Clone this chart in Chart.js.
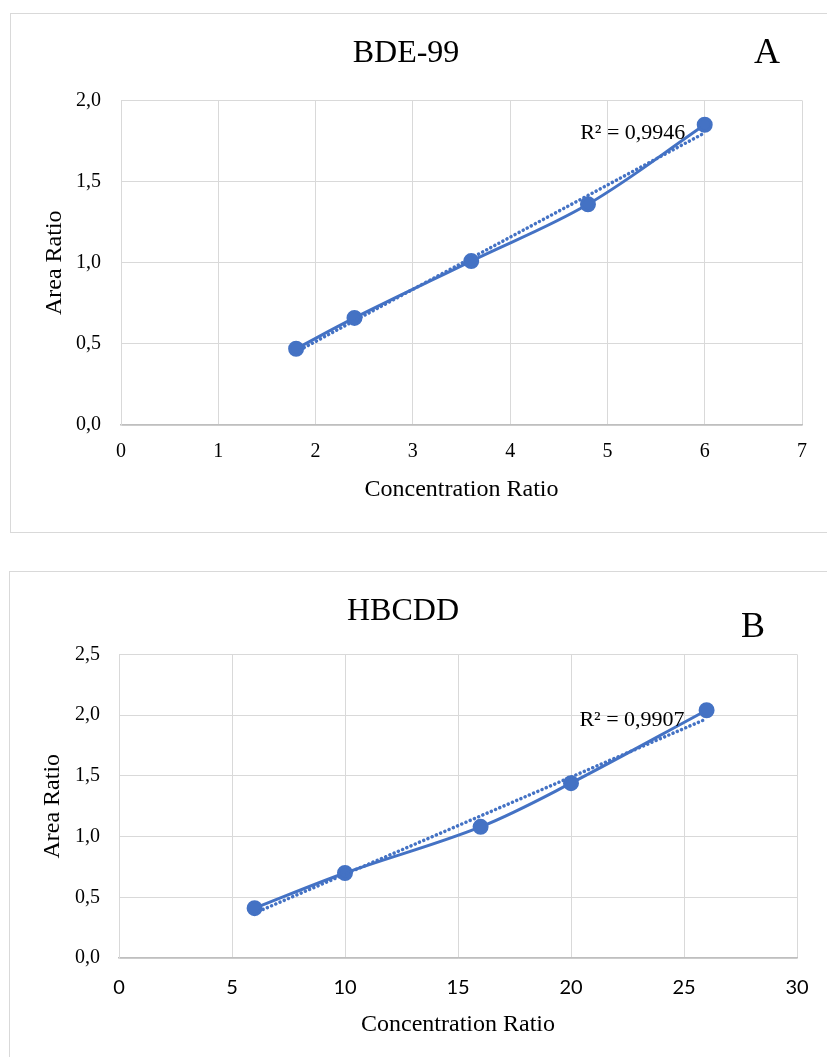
<!DOCTYPE html>
<html>
<head>
<meta charset="utf-8">
<script src="https://cdn.jsdelivr.net/npm/chart.js@4.4.1/dist/chart.umd.min.js"></script>
<style>
  html, body { margin: 0; padding: 0; background: #fff; overflow: hidden; width: 827px; height: 1057px; }
  .panel { position: absolute; border: 1px solid #d9d9d9; box-sizing: border-box; }
  canvas { position: absolute; }
</style>
</head>
<body>
<div class="panel" style="left:10px; top:13px; width:830px; height:520px;"></div>
<div class="panel" style="left:9px; top:571px; width:830px; height:500px;"></div>
<canvas id="chartA" width="817" height="519" style="left:10px; top:13px;"></canvas>
<canvas id="chartB" width="818" height="486" style="left:9px; top:571px;"></canvas>
<script>
// panel A - BDE-99
const concA = [1.8, 2.4, 3.6, 4.8, 6.0];
const areaA = [0.47, 0.66, 1.01, 1.36, 1.85];
const trendAx = [1.8, 6.0];
const trendAy = [0.45, 1.80];
const r2A = 'R² = 0,9946';

// panel B - HBCDD
const concB = [6, 10, 16, 20, 26];
const areaB = [0.41, 0.70, 1.08, 1.44, 2.04];
const trendBx = [6, 26];
const trendBy = [0.37, 1.97];
const r2B = 'R² = 0,9907';

const blue = '#4472C4';
const grid = '#d9d9d9';
const serif = '"Liberation Serif", "Times New Roman", serif';

function pts(xs, ys) {
    return xs.map((v, i) => ({x: v, y: ys[i]}));
}

// letter + R² label
const annotate = {
    id: 'annotate',
    afterDraw(chart, args, o) {
        const {ctx} = chart;
        const x = chart.scales.x, y = chart.scales.y;
        ctx.save();
        ctx.fillStyle = '#000';
        ctx.textAlign = 'center';
        ctx.textBaseline = 'middle';
        ctx.font = '36px ' + serif;
        ctx.fillText(o.letter, o.lx, o.ly);
        ctx.font = '22px ' + serif;
        ctx.fillText(o.r2, x.getPixelForValue(o.r2x), y.getPixelForValue(o.r2y));
        ctx.restore();
    }
};

function makeChart(id, cfg) {
    return new Chart(document.getElementById(id), {
        type: 'scatter',
        data: {
            datasets: [
                {
                    data: pts(cfg.tx, cfg.ty),
                    showLine: true,
                    borderColor: blue,
                    borderWidth: 3.5,
                    borderDash: [0.1, 4.5],
                    borderCapStyle: 'round',
                    pointRadius: 0
                },
                {
                    data: pts(cfg.xs, cfg.ys),
                    showLine: true,
                    tension: 0.35,
                    borderColor: blue,
                    borderWidth: 3,
                    backgroundColor: blue,
                    pointRadius: 6.5,
                    pointBackgroundColor: blue,
                    pointBorderColor: blue
                }
            ]
        },
        options: {
            responsive: false,
            animation: false,
            devicePixelRatio: 1,
            layout: {padding: {left: 0, right: cfg.padRight, top: 0, bottom: 0}},
            plugins: {
                legend: {display: false},
                tooltip: {enabled: false},
                title: {
                    display: true,
                    text: cfg.title,
                    color: '#000',
                    font: {family: serif, size: 32, weight: 'normal', lineHeight: 1.2},
                    padding: {top: cfg.titleTop, bottom: cfg.titleBottom}
                },
                annotate: {letter: cfg.letter, lx: cfg.lx, ly: cfg.ly, r2: cfg.r2, r2x: cfg.r2x, r2y: cfg.r2y}
            },
            scales: {
                x: {
                    type: 'linear',
                    min: 0, max: cfg.xMax,
                    ticks: {
                        stepSize: cfg.xStep,
                        color: '#000',
                        padding: cfg.xTickPad,
                        font: {family: cfg.xTickFont, size: 20}
                    },
                    grid: {color: grid, drawTicks: false},
                    border: {color: '#bfbfbf', width: 1.5},
                    title: {
                        display: true,
                        text: 'Concentration Ratio',
                        color: '#000',
                        font: {family: serif, size: 24, lineHeight: 1.2},
                        padding: {top: 0, bottom: cfg.xTitlePad}
                    },
                    afterFit(s) {
                        s.height = cfg.xHeight;
                        s.paddingLeft = 0;
                        s.paddingRight = 0;
                    }
                },
                y: {
                    min: 0, max: cfg.yMax,
                    ticks: {
                        stepSize: 0.5,
                        color: '#000',
                        padding: cfg.yTickPad,
                        font: {family: serif, size: 20},
                        callback: v => v.toFixed(1).replace('.', ',')
                    },
                    grid: {color: grid, drawTicks: false},
                    border: {color: grid},
                    title: {
                        display: true,
                        text: 'Area Ratio',
                        color: '#000',
                        font: {family: serif, size: 24, lineHeight: 1.2},
                        padding: {top: cfg.yTitlePad, bottom: 0}
                    },
                    afterFit(s) {
                        s.width = cfg.yWidth;
                        s.paddingTop = 0;
                        s.paddingBottom = 0;
                    }
                }
            }
        },
        plugins: [annotate]
    });
}

makeChart('chartA', {
    xs: concA, ys: areaA, tx: trendAx, ty: trendAy,
    title: 'BDE-99', letter: 'A', lx: 757, ly: 41,
    r2: r2A, r2x: 5.26, r2y: 1.80,
    xMax: 7, xStep: 1, yMax: 2.0,
    xTickFont: serif,
    padRight: 25, titleTop: 21, titleBottom: 28,
    xHeight: 107, xTickPad: 15, xTitlePad: 28,
    yWidth: 111, yTickPad: 20, yTitlePad: 30
});

makeChart('chartB', {
    xs: concB, ys: areaB, tx: trendBx, ty: trendBy,
    title: 'HBCDD', letter: 'B', lx: 744, ly: 57,
    r2: r2B, r2x: 22.7, r2y: 1.96,
    xMax: 30, xStep: 5, yMax: 2.5,
    xTickFont: 'Lato, "Open Sans", sans-serif',
    padRight: 30, titleTop: 21, titleBottom: 24,
    xHeight: 99, xTickPad: 18, xTitlePad: 18,
    yWidth: 110, yTickPad: 19, yTitlePad: 29
});
</script>
</body>
</html>
